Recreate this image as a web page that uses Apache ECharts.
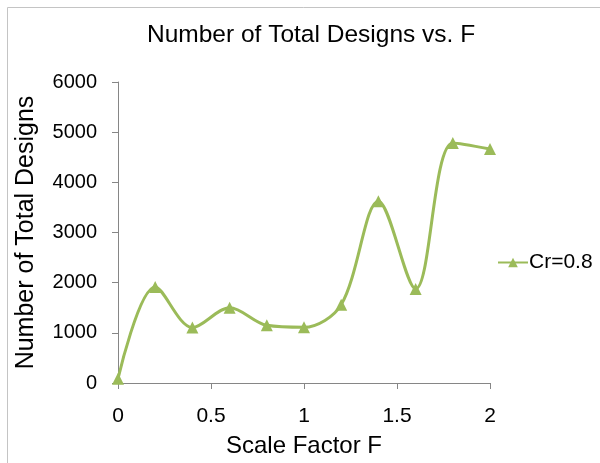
<!DOCTYPE html>
<html>
<head>
<meta charset="utf-8">
<script src="https://cdn.jsdelivr.net/npm/echarts@6/dist/echarts.min.js"></script>
<style>
html,body{margin:0;padding:0;background:#fff;}
#chart{width:600px;height:463px;}
</style>
</head>
<body>
<div id="chart"></div>
<script>
const xValues = [0, 0.2, 0.4, 0.6, 0.8, 1.0, 1.2, 1.4, 1.6, 1.8, 2.0];
const designCounts = [85, 1915, 1105, 1500, 1150, 1110, 1560, 3625, 1875, 4785, 4665];
const seriesName = 'Cr=0.8';
const titleText = 'Number of Total Designs vs. F';
const xAxisName = 'Scale Factor F';
const yAxisName = 'Number of Total Designs';

const FONT = '"Liberation Sans", Arial, sans-serif';
const chart = echarts.init(document.getElementById('chart'), null, {renderer: 'canvas'});
chart.setOption({
  animation: false,
  backgroundColor: '#ffffff',
  title: {
    text: titleText,
    left: 142, top: 18,
    textStyle: {fontFamily: FONT, fontSize: 24.5, fontWeight: 'normal', color: '#000'}
  },
  legend: {
    left: 492, top: 247,
    itemWidth: 30, itemHeight: 12, itemGap: 4,
    textStyle: {fontFamily: FONT, fontSize: 21, color: '#000', padding: [0,0,0,-4]},
    data: [seriesName]
  },
  grid: {left: 118, right: 110, top: 82, bottom: 71, containLabel: false},
  xAxis: {
    type: 'value', min: 0, max: 2, interval: 0.5,
    name: xAxisName, nameLocation: 'middle', nameGap: 51,
    nameTextStyle: {fontFamily: FONT, fontSize: 24, color: '#000'},
    axisLine: {show: true, lineStyle: {color: '#868686', width: 1}},
    axisTick: {show: true, length: 6, lineStyle: {color: '#868686'}},
    axisLabel: {fontFamily: FONT, fontSize: 21, color: '#000', margin: 23,
      formatter: v => String(v)},
    splitLine: {show: false}
  },
  yAxis: {
    type: 'value', min: 0, max: 6000, interval: 1000,
    name: yAxisName, nameLocation: 'middle', nameGap: 79,
    nameTextStyle: {fontFamily: FONT, fontSize: 25, color: '#000'},
    axisLine: {show: true, lineStyle: {color: '#868686', width: 1}},
    axisTick: {show: true, length: 6, lineStyle: {color: '#868686'}},
    axisLabel: {fontFamily: FONT, fontSize: 20, color: '#000', margin: 21,
      formatter: v => String(v)},
    splitLine: {show: false}
  },
  graphic: [{
    type: 'polyline',
    shape: {points: [[7.5, 463], [7.5, 7.5], [600, 7.5]]},
    style: {stroke: '#c4c4c4', lineWidth: 1, fill: null},
    silent: true
  }],
  series: [{
    name: seriesName,
    type: 'line',
    data: xValues.map((x, i) => [x, designCounts[i]]),
    smooth: 0.33,
    symbol: 'triangle',
    symbolSize: 12,
    lineStyle: {color: '#9bbb59', width: 3},
    itemStyle: {color: '#9bbb59'},
    clip: false
  }]
});
</script>
</body>
</html>
